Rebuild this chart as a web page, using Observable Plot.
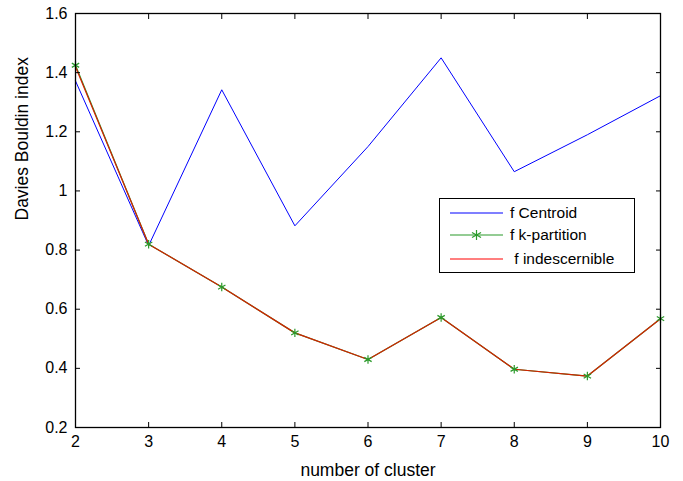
<!DOCTYPE html>
<html><head><meta charset="utf-8">
<script src="https://cdn.jsdelivr.net/npm/d3@7"></script>
<script src="https://cdn.jsdelivr.net/npm/@observablehq/plot@0.6"></script>
<style>
body{margin:0;background:#fff;font-family:"Liberation Sans",Arial,sans-serif;}
#wrap{position:relative;width:683px;height:481px;}
#legend{position:absolute;left:439px;top:198px;width:196px;height:75px;border:1px solid #000;background:#fff;box-sizing:border-box;font-size:15.5px;}
.row{position:absolute;left:0;height:20px;display:flex;align-items:center;}
.row svg{margin-left:10px;}
.row span{margin-left:7px;white-space:pre;}
</style></head>
<body><div id="wrap"></div>
<script>
const clusters = [2,3,4,5,6,7,8,9,10];
const centroid = [1.372,0.815,1.342,0.882,1.15,1.45,1.065,1.19,1.322];
const kpartition = [1.425,0.82,0.675,0.52,0.43,0.572,0.397,0.374,0.568];
const indescernible = [1.42,0.82,0.675,0.52,0.43,0.572,0.397,0.374,0.568];
const xTicks = [2,3,4,5,6,7,8,9,10];
const yTicks = [0.2,0.4,0.6,0.8,1,1.2,1.4,1.6];
const seriesNames = ["f Centroid","f k-partition"," f indescernible"];
const xLabel = "number of cluster";
const yLabel = "Davies Bouldin index";
const colors = ["#0000ff","#2a9a2a","#ff0000"];

const mk = ys => clusters.map((c,i)=>({x:c,y:ys[i]}));
const dC = mk(centroid), dK = mk(kpartition), dI = mk(indescernible);

const chart = Plot.plot({
  width:683, height:481,
  marginLeft:75, marginRight:23, marginTop:13, marginBottom:54,
  style:{fontFamily:"Liberation Sans, Arial, sans-serif", fontSize:"16px", color:"#000", background:"#fff", overflow:"visible"},
  x:{domain:[2,10]},
  y:{domain:[0.2,1.6]},
  marks:[
    Plot.line(dC,{x:"x",y:"y",stroke:colors[0],strokeWidth:1}),
    Plot.line(dK,{x:"x",y:"y",stroke:colors[1],strokeWidth:1.2}),
    Plot.line(dI,{x:"x",y:"y",stroke:"#d42000",strokeWidth:1.2}),
    Plot.dot(dK,{x:"x",y:"y",symbol:"asterisk",r:4,stroke:colors[1],strokeWidth:1.2}),
    Plot.axisX(xTicks,{anchor:"bottom",tickSize:-5,text:null,label:null,stroke:"#000"}),
    Plot.axisX(xTicks,{anchor:"top",tickSize:-5,text:null,label:null,stroke:"#000"}),
    Plot.axisY(yTicks,{anchor:"left",tickSize:-5,text:null,label:null,stroke:"#000"}),
    Plot.axisY(yTicks,{anchor:"right",tickSize:-5,text:null,label:null,stroke:"#000"}),
    Plot.axisX(xTicks,{anchor:"bottom",tickSize:0,tickPadding:8.5,tickFormat:d=>String(d),fill:"#000",fontSize:16,label:null}),
    Plot.axisY(yTicks,{anchor:"left",tickSize:0,tickPadding:8,tickFormat:d=>String(d),fill:"#000",fontSize:16,label:null}),
    Plot.text([xLabel],{frameAnchor:"bottom",dy:48,lineAnchor:"bottom",fontSize:17.5,fill:"#000"}),
    Plot.text([yLabel],{frameAnchor:"left",dx:-60,rotate:-90,lineAnchor:"top",fontSize:17.5,fill:"#000"}),
    Plot.frame({stroke:"#000",strokeWidth:1.3})
  ]
});
const wrap = document.getElementById("wrap");
wrap.appendChild(chart);

const leg = document.createElement("div");
leg.id = "legend";
const tops = [4,26,50];
seriesNames.forEach((n,i)=>{
  const r = document.createElement("div");
  r.className = "row";
  r.style.top = (tops[i])+"px";
  let marker = i===1 ? `<g stroke="${colors[1]}" stroke-width="1.2"><line x1="26.5" y1="5" x2="26.5" y2="15"/><line x1="22" y1="7.5" x2="31" y2="12.5"/><line x1="22" y1="12.5" x2="31" y2="7.5"/></g>` : "";
  r.innerHTML = `<svg width="53" height="20"><line x1="0" y1="10" x2="53" y2="10" stroke="${colors[i]}" stroke-width="1.2"/>${marker}</svg><span>${n}</span>`;
  leg.appendChild(r);
});
wrap.appendChild(leg);
</script></body></html>
